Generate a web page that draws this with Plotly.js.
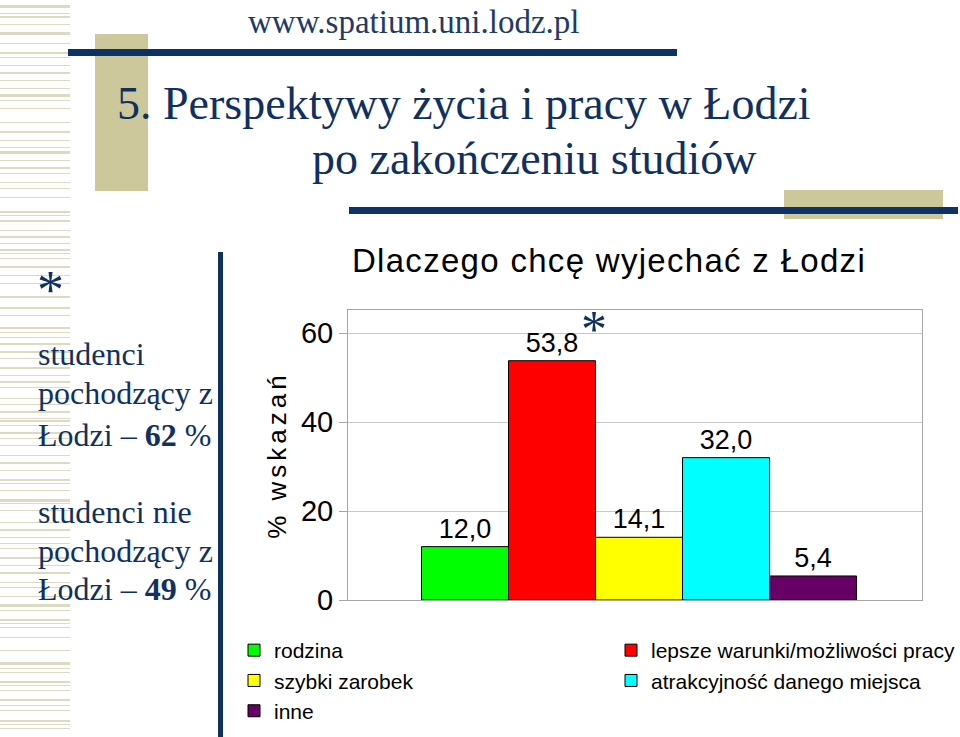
<!DOCTYPE html>
<html>
<head>
<meta charset="utf-8">
<script src="https://cdn.plot.ly/plotly-3.0.1.min.js"></script>
<style>
  html, body { margin: 0; padding: 0; background: #ffffff; }
  #chart { width: 960px; height: 737px; }
</style>
</head>
<body>
<div id="chart"></div>
<script>
// ---- data ----
const categories = ['rodzina', 'lepsze warunki/możliwości pracy', 'szybki zarobek', 'atrakcyjność danego miejsca', 'inne'];
const values = [12.0, 53.8, 14.1, 32.0, 5.4];
const barColors = ['#00ff00', '#ff0000', '#ffff00', '#00ffff', '#660066'];
const yTickValues = [0, 20, 40, 60];
const chartTitle = 'Dlaczego chcę wyjechać z Łodzi';
const yTitle = '% wskazań';
const slideUrl = 'www.spatium.uni.lodz.pl';
const slideTitle1 = '5. Perspektywy życia i pracy w Łodzi';
const slideTitle2 = 'po zakończeniu studiów';
const sideLines = ['studenci', 'pochodzący z', 'Łodzi – <b>62</b> %', 'studenci nie', 'pochodzący z', 'Łodzi – <b>49</b> %'];

// ---- layout helpers (pixel -> paper) ----
const PL = 348, PR = 922, PT = 310, PB = 600;
const px = x => (x - PL) / (PR - PL);
const py = y => (PB - y) / (PB - PT);

const NAVY = '#0d3366';
const BEIGE = '#ccc89b';
const STRIPE = '#dcdac2';
const TEXTNAVY = '#10305f';

const shapes = [];
function rect(x0, y0, x1, y1, color) {
  shapes.push({type: 'rect', xref: 'paper', yref: 'paper', x0: px(x0), x1: px(x1), y0: py(y1), y1: py(y0),
    fillcolor: color, line: {width: 0}, layer: 'below'});
}
// left striped band (decorative)
const stripes = [[5,3],[13,1],[16,2],[24,1],[32,3],[43,1],[52,2],[57,1],[65,1],[72,2],[80,1],[88,1],[94,3],[100,1],[108,1],[122,1],[131,2],[140,1],[147,1],[151,3],[160,1],[167,2],[173,1],[182,1],[188,1],[197,1],
  [211,2],[215,1],[220,2],[230,1],[236,2],[243,1],[249,2],[253,1],[258,1],[266,2],[275,1],[283,1],[296,2],[307,2],[315,1],[327,2],[332,1],[337,1],[343,2],[351,2],[358,1],[367,2],[375,1],[381,2],[387,1],
  [398,1],[404,1],[411,2],[418,1],[420,2],[425,1],[432,2],[438,1],[445,1],[455,1],[462,2],[470,1],[479,2],[483,1],[490,1],[499,3],[503,1],[510,1],[522,1],[529,2],[537,1],[543,1],[548,1],[557,2],[565,1],[572,2],[582,1],[587,1],
  [596,1],[604,3],[610,1],[619,2],[623,1],[627,1],[637,1],[650,1],[662,3],[668,1],[672,1],[681,2],[685,1],[690,1],[699,2],[705,1],[710,1],[720,2],[724,1],[728,1]];
stripes.forEach(s => rect(0, s[0], 70, s[0] + s[1], STRIPE));
// beige blocks
rect(95, 34, 148, 191, BEIGE);
rect(784, 190, 943, 219, BEIGE);
// navy rules
rect(68, 49, 677, 56, NAVY);
rect(349, 207, 958, 214, NAVY);
rect(218, 252, 223, 737, NAVY);

const annotations = [];
function label(text, x, y, size, opts) {
  annotations.push(Object.assign({
    text: text, xref: 'paper', yref: 'paper', x: px(x), y: py(y), xanchor: 'left', yanchor: 'middle',
    showarrow: false, font: {family: 'Liberation Serif, Times New Roman, serif', size: size, color: TEXTNAVY}
  }, opts || {}));
}
label(slideUrl, 246, 22, 33, {font: {family: 'Liberation Serif, serif', size: 33, color: '#223a66'}});
label(slideTitle1, 115, 104, 46);
label(slideTitle2, 310, 158, 46);
label('*', 35, 290, 54);
const sideY = [354, 393, 435, 512, 551, 589];
sideLines.forEach((t, i) => label(t, 36, sideY[i], 32));
label('*', 579, 329, 52);

// ---- traces ----
const traces = categories.map((c, i) => ({
  type: 'bar',
  name: c,
  x: ['powody'],
  y: [values[i]],
  marker: {color: barColors[i], line: {color: '#000000', width: 1}},
  texttemplate: '%{y:.1f}',
  textposition: 'outside',
  textfont: {family: 'Liberation Sans, Arial, sans-serif', size: 27, color: '#000000'},
  cliponaxis: false,
  hoverinfo: 'skip'
}));

const layout = {
  width: 960, height: 737,
  margin: {l: PL, r: 960 - PR, t: PT, b: 737 - PB, autoexpand: false},
  paper_bgcolor: '#ffffff', plot_bgcolor: '#ffffff',
  separators: ', ',
  barmode: 'group', bargap: 0.242, bargroupgap: 0,
  showlegend: true,
  font: {family: 'Liberation Sans, Arial, sans-serif', color: '#000000'},
  title: {text: chartTitle, x: 609 / 960, xanchor: 'center', y: 1 - 260 / 737, yanchor: 'middle',
    font: {family: 'Liberation Sans, Arial, sans-serif', size: 33, color: '#000000'}},
  xaxis: {range: [-0.507, 0.493], showticklabels: false, ticks: '', showgrid: false, zeroline: false,
    showline: true, mirror: true, linecolor: '#a6a6a6', linewidth: 1, fixedrange: true},
  yaxis: {range: [0, 65.2], tickmode: 'array', tickvals: yTickValues, ticks: 'outside', ticklen: 8,
    tickcolor: '#a6a6a6', showline: true, mirror: true, linecolor: '#a6a6a6', linewidth: 1,
    showgrid: true, gridcolor: '#c8c8c8', zeroline: false, fixedrange: true,
    tickfont: {family: 'Liberation Sans, Arial, sans-serif', size: 29, color: '#000000'},
    title: {text: yTitle, standoff: 6, font: {family: 'Liberation Sans, Arial, sans-serif', size: 26, color: '#000000'}}},
  legend: {orientation: 'h', x: px(234), xanchor: 'left', y: py(630), yanchor: 'top',
    entrywidth: 332, entrywidthmode: 'pixels', traceorder: 'normal',
    font: {family: 'Liberation Sans, Arial, sans-serif', size: 21, color: '#000000'},
    bgcolor: 'rgba(0,0,0,0)', borderwidth: 0},
  shapes: shapes,
  annotations: annotations
};

Plotly.newPlot('chart', traces, layout, {staticPlot: true, displayModeBar: false}).then(gd => {
  gd.querySelectorAll('.g-ytitle text').forEach(t => { t.style.letterSpacing = '4px'; });
  gd.querySelectorAll('.g-gtitle text').forEach(t => { t.style.letterSpacing = '1.3px'; });
});
</script>
</body>
</html>
